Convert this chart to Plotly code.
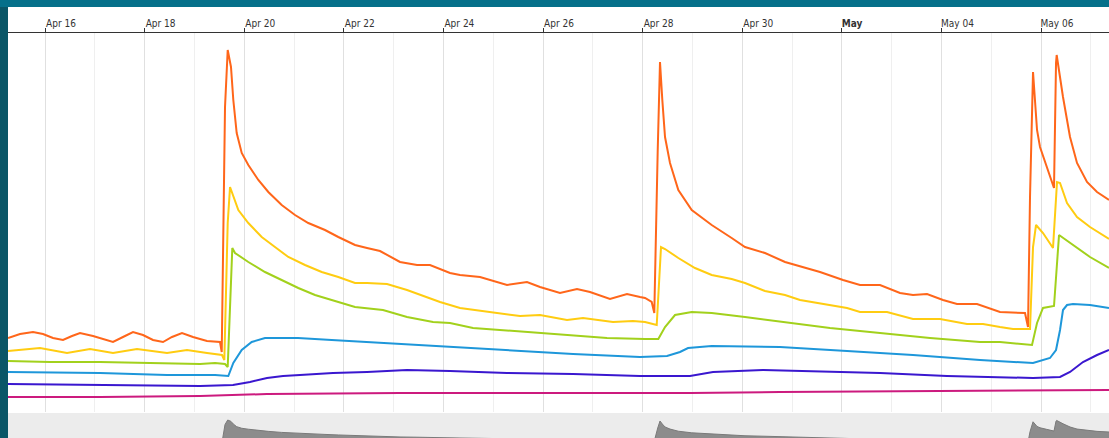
import plotly.graph_objects as go

# ---------------- data ----------------
orange_t = ["2019-04-15 06:10", "2019-04-15 11:57", "2019-04-15 18:13", "2019-04-15 23:02", "2019-04-16 03:51",
            "2019-04-16 08:40", "2019-04-16 13:01", "2019-04-16 16:52", "2019-04-16 23:08", "2019-04-17 03:57",
            "2019-04-17 08:46", "2019-04-17 13:35", "2019-04-17 18:25", "2019-04-17 23:14", "2019-04-18 04:03",
            "2019-04-18 08:52", "2019-04-18 13:12", "2019-04-18 18:01", "2019-04-18 23:20", "2019-04-19 06:04",
            "2019-04-19 09:56", "2019-04-19 12:20", "2019-04-19 13:10", "2019-04-19 14:45", "2019-04-19 16:03",
            "2019-04-19 17:38", "2019-04-19 18:45", "2019-04-19 20:23", "2019-04-19 22:48", "2019-04-20 01:59",
            "2019-04-20 06:48", "2019-04-20 11:37", "2019-04-20 18:04", "2019-04-21 00:29", "2019-04-21 06:53",
            "2019-04-21 14:56", "2019-04-21 21:21", "2019-04-22 05:24", "2019-04-22 11:11", "2019-04-22 17:27",
            "2019-04-23 03:05", "2019-04-23 11:17", "2019-04-23 17:32", "2019-04-24 03:11", "2019-04-24 08:00",
            "2019-04-24 17:38", "2019-04-25 06:39", "2019-04-25 16:17", "2019-04-25 22:33", "2019-04-26 08:11",
            "2019-04-26 16:23", "2019-04-26 22:39", "2019-04-27 08:17", "2019-04-27 16:29", "2019-04-27 22:45",
            "2019-04-28 01:10", "2019-04-28 04:23", "2019-04-28 05:38", "2019-04-28 07:17", "2019-04-28 08:23",
            "2019-04-28 09:30", "2019-04-28 10:48", "2019-04-28 13:12", "2019-04-28 17:13", "2019-04-28 23:40",
            "2019-04-29 09:18", "2019-04-29 18:56", "2019-04-30 01:21", "2019-04-30 10:59", "2019-04-30 20:38",
            "2019-05-01 13:30", "2019-05-02 00:35", "2019-05-02 08:46", "2019-05-02 18:25", "2019-05-03 04:03",
            "2019-05-03 10:18", "2019-05-03 17:04", "2019-05-04 00:46", "2019-05-04 07:31", "2019-05-04 17:10",
            "2019-05-05 04:14", "2019-05-05 12:26", "2019-05-05 16:17", "2019-05-05 17:44", "2019-05-05 18:42",
            "2019-05-05 20:09", "2019-05-05 22:05", "2019-05-05 23:31", "2019-05-06 02:45", "2019-05-06 05:10",
            "2019-05-06 06:16", "2019-05-06 07:14", "2019-05-06 07:33", "2019-05-06 10:36", "2019-05-06 13:59",
            "2019-05-06 17:21", "2019-05-06 22:10", "2019-05-07 03:00", "2019-05-07 08:46"]
orange_v = [74, 78, 80, 78, 74,
            72, 76, 79, 76, 73,
            70, 75, 80, 77, 72,
            70, 75, 79, 75, 71,
            70, 70, 60, 305, 362,
            345, 312, 279, 259, 247,
            232, 220, 207, 197, 189,
            182, 175, 167, 164, 161,
            150, 147, 147, 139, 137,
            135, 127, 130, 125, 119,
            123, 120, 113, 118, 115,
            114, 110, 99, 262, 350,
            312, 275, 249, 222, 202,
            187, 174, 165, 159, 150,
            140, 132, 127, 127, 119,
            117, 118, 112, 108, 108,
            100, 99, 99, 85, 215,
            340, 282, 265, 245, 232,
            224, 349, 357, 315, 275,
            249, 230, 220, 212]

yellow_t = ["2019-04-15 06:10", "2019-04-15 21:35", "2019-04-16 10:36", "2019-04-16 21:41", "2019-04-17 08:46",
            "2019-04-17 20:20", "2019-04-18 10:48", "2019-04-18 20:26", "2019-04-19 06:04", "2019-04-19 13:18",
            "2019-04-19 14:25", "2019-04-19 16:03", "2019-04-19 17:10", "2019-04-19 18:45", "2019-04-19 21:10",
            "2019-04-20 01:59", "2019-04-20 08:26", "2019-04-20 14:50", "2019-04-20 21:15", "2019-04-21 05:18",
            "2019-04-21 13:21", "2019-04-21 21:21", "2019-04-22 05:24", "2019-04-22 11:11", "2019-04-22 20:49",
            "2019-04-23 06:28", "2019-04-23 18:59", "2019-04-23 22:22", "2019-04-24 08:00", "2019-04-24 22:28",
            "2019-04-25 12:55", "2019-04-25 22:33", "2019-04-26 11:34", "2019-04-26 19:17", "2019-04-27 09:44",
            "2019-04-27 19:22", "2019-04-28 01:10", "2019-04-28 06:48", "2019-04-28 08:52", "2019-04-28 10:48",
            "2019-04-28 17:13", "2019-04-29 01:15", "2019-04-29 09:18", "2019-04-29 18:56", "2019-04-30 01:21",
            "2019-04-30 10:59", "2019-04-30 20:38", "2019-05-01 03:52", "2019-05-01 16:52", "2019-05-02 02:31",
            "2019-05-02 08:46", "2019-05-02 21:47", "2019-05-03 10:18", "2019-05-03 23:20", "2019-05-04 12:20",
            "2019-05-04 20:03", "2019-05-05 04:14", "2019-05-05 10:30", "2019-05-05 18:42", "2019-05-05 20:09",
            "2019-05-05 21:36", "2019-05-06 00:58", "2019-05-06 05:47", "2019-05-06 07:43", "2019-05-06 09:10",
            "2019-05-06 12:32", "2019-05-06 17:21", "2019-05-06 23:37", "2019-05-07 08:46"]
yellow_v = [61, 64, 59, 63, 59,
            63, 59, 62, 59, 57,
            52, 189, 225, 215, 202,
            189, 175, 165, 155, 147,
            140, 135, 129, 129, 128,
            122, 113, 110, 104, 100,
            96, 97, 92, 94, 90,
            91, 90, 87, 165, 163,
            154, 144, 137, 133, 129,
            121, 117, 112, 107, 104,
            100, 100, 93, 93, 88,
            88, 85, 83, 83, 165,
            187, 179, 164, 230, 229,
            209, 195, 185, 173]

green_t = ["2019-04-15 06:10", "2019-04-16 02:25", "2019-04-17 02:30", "2019-04-18 02:36", "2019-04-19 02:42",
           "2019-04-19 09:56", "2019-04-19 14:45", "2019-04-19 16:03", "2019-04-19 17:10", "2019-04-19 18:16",
           "2019-04-19 19:34", "2019-04-20 01:59", "2019-04-20 10:01", "2019-04-20 18:04", "2019-04-21 02:04",
           "2019-04-21 10:07", "2019-04-21 18:10", "2019-04-22 05:24", "2019-04-22 18:53", "2019-04-23 06:28",
           "2019-04-23 18:59", "2019-04-24 03:11", "2019-04-24 14:16", "2019-04-25 14:22", "2019-04-26 14:28",
           "2019-04-27 06:51", "2019-04-28 01:10", "2019-04-28 07:34", "2019-04-28 10:48", "2019-04-28 15:37",
           "2019-04-28 23:40", "2019-04-29 09:18", "2019-04-30 01:21", "2019-04-30 20:38", "2019-05-01 18:19",
           "2019-05-02 18:25", "2019-05-03 18:31", "2019-05-04 18:36", "2019-05-05 04:14", "2019-05-05 19:40",
           "2019-05-05 22:05", "2019-05-06 00:58", "2019-05-06 06:16", "2019-05-06 08:41", "2019-05-06 13:59",
           "2019-05-06 23:37", "2019-05-07 08:46"]
green_v = [51, 50, 50, 49, 48,
           49, 48, 45, 105, 164,
           159, 150, 140, 132, 124,
           117, 112, 105, 102, 95,
           90, 89, 84, 80, 76,
           74, 73, 73, 85, 97,
           100, 99, 95, 90, 84,
           79, 74, 70, 70, 67,
           89, 104, 106, 177, 169,
           155, 144]

blue_t = ["2019-04-15 06:10", "2019-04-17 02:30", "2019-04-18 10:48", "2019-04-19 09:56", "2019-04-19 16:20",
          "2019-04-19 18:45", "2019-04-19 22:48", "2019-04-20 03:37", "2019-04-20 10:01", "2019-04-21 01:56",
          "2019-04-21 18:10", "2019-04-22 11:11", "2019-04-23 03:05", "2019-04-24 03:11", "2019-04-25 06:39",
          "2019-04-26 14:28", "2019-04-27 22:45", "2019-04-28 11:46", "2019-04-28 18:01", "2019-04-28 21:53",
          "2019-04-29 09:18", "2019-04-30 18:13", "2019-05-02 02:31", "2019-05-03 10:18", "2019-05-04 18:36",
          "2019-05-05 20:09", "2019-05-06 04:20", "2019-05-06 07:14", "2019-05-06 09:10", "2019-05-06 10:36",
          "2019-05-06 12:32", "2019-05-06 15:25", "2019-05-06 23:37", "2019-05-07 08:46"]
blue_v = [40, 39, 37, 37, 36,
          49, 62, 70, 74, 74,
          72, 70, 68, 65, 62,
          58, 55, 56, 60, 64,
          66, 65, 61, 57, 52,
          49, 54, 62, 82, 102,
          107, 108, 107, 104]

indigo_t = ["2019-04-15 06:10", "2019-04-17 02:30", "2019-04-19 02:42", "2019-04-19 18:36", "2019-04-20 02:48",
            "2019-04-20 10:59", "2019-04-20 18:42", "2019-04-21 02:53", "2019-04-21 18:48", "2019-04-22 11:11",
            "2019-04-23 06:28", "2019-04-24 03:11", "2019-04-25 06:39", "2019-04-26 14:28", "2019-04-27 22:45",
            "2019-04-28 22:50", "2019-04-29 09:56", "2019-04-30 10:02", "2019-05-01 10:07", "2019-05-02 18:25",
            "2019-05-04 02:42", "2019-05-05 04:14", "2019-05-05 20:09", "2019-05-06 09:10", "2019-05-06 13:59",
            "2019-05-06 20:14", "2019-05-07 03:00", "2019-05-07 08:46"]
indigo_v = [28, 27, 26, 27, 30,
            34, 36, 37, 39, 40,
            42, 41, 39, 38, 36,
            36, 40, 42, 41, 39,
            36, 35, 34, 35, 40,
            50, 57, 62]

magenta_t = ["2019-04-15 06:10", "2019-04-17 02:30", "2019-04-19 02:42", "2019-04-19 18:36", "2019-04-20 10:59",
             "2019-04-23 03:05", "2019-04-28 22:50", "2019-04-30 18:13", "2019-05-04 18:36", "2019-05-07 08:46"]
magenta_v = [15, 15, 16, 17, 18, 19, 19, 20, 21, 22]

tick_vals = ["2019-04-16", "2019-04-18", "2019-04-20", "2019-04-22", "2019-04-24", "2019-04-26",
             "2019-04-28", "2019-04-30", "2019-05-02", "2019-05-04", "2019-05-06"]
tick_text = ["Apr 16", "Apr 18", "Apr 20", "Apr 22", "Apr 24", "Apr 26",
             "Apr 28", "Apr 30", "<b>May</b>\u00a0\u00a0\u00a0\u00a0", "May 04", "May 06"]
minor_vals = ["2019-04-17", "2019-04-19", "2019-04-21", "2019-04-23", "2019-04-25", "2019-04-27",
              "2019-04-29", "2019-05-01", "2019-05-03", "2019-05-05", "2019-05-07"]
x_range = ["2019-04-15 06:10", "2019-05-07 08:46"]

series = [
    ("orange", orange_t, orange_v, "#ff661a"),
    ("yellow", yellow_t, yellow_v, "#ffcc11"),
    ("green", green_t, green_v, "#a2d11c"),
    ("blue", blue_t, blue_v, "#1e97da"),
    ("indigo", indigo_t, indigo_v, "#3a17cf"),
    ("magenta", magenta_t, magenta_v, "#cc1a7e"),
]

# ---------------- figure ----------------
W, H = 1109, 438
ML, MT = 8, 33
plot_w, plot_h = W - ML, H - MT

fig = go.Figure()

for name, t, v, c in reversed(series):
    fig.add_trace(go.Scatter(x=t, y=v, mode="lines", name=name,
                             line=dict(color=c, width=2), hoverinfo="skip",
                             xaxis="x", yaxis="y"))

# navigator (bottom strip) showing the first series
fig.add_trace(go.Scatter(x=orange_t, y=orange_v, mode="lines", fill="tozeroy",
                         fillcolor="#8c8c8c", line=dict(color="#7a7a7a", width=1),
                         hoverinfo="skip", xaxis="x2", yaxis="y2"))

nav_top = (H - 413) / plot_h
main_bot = (H - 412) / plot_h
top_white = (H - 7) / plot_h
left_px = -ML / plot_w

shapes = [
    dict(type="rect", xref="paper", yref="paper", x0=0, x1=1, y0=0, y1=top_white,
         fillcolor="white", line=dict(width=0), layer="below"),
    dict(type="rect", xref="paper", yref="paper", x0=left_px, x1=0, y0=0, y1=top_white,
         fillcolor="#0a5667", line=dict(width=0), layer="below"),
    dict(type="rect", xref="paper", yref="paper", x0=0, x1=1, y0=0, y1=nav_top,
         fillcolor="#ececec", line=dict(width=0), layer="below"),
]

fig.update_layout(
    width=W, height=H,
    margin=dict(l=ML, r=0, t=MT, b=0, pad=0),
    paper_bgcolor="#05708a",
    plot_bgcolor="rgba(0,0,0,0)",
    showlegend=False,
    font=dict(family="DejaVu Sans Condensed, DejaVu Sans, sans-serif", size=10, color="#333333"),
    shapes=shapes,
    xaxis=dict(
        type="date", side="top", range=x_range, anchor="y",
        tickmode="array", tickvals=tick_vals, ticktext=tick_text,
        ticks="outside", ticklen=4, tickwidth=1, tickcolor="#333333",
        ticklabelshift=16, ticklabelstandoff=-3,
        showline=True, linecolor="#333333", linewidth=1.5,
        showgrid=True, gridcolor="#e0e0e0", gridwidth=1,
        minor=dict(tickmode="array", tickvals=minor_vals, showgrid=True,
                   gridcolor="#efefef", gridwidth=1, ticks=""),
        zeroline=False, automargin=False, fixedrange=True,
        tickfont=dict(size=10, color="#333333"),
    ),
    yaxis=dict(domain=[main_bot, 1], range=[0, 379], visible=False, fixedrange=True),
    xaxis2=dict(type="date", range=x_range, anchor="y2", visible=False, fixedrange=True),
    yaxis2=dict(domain=[0, nav_top], range=[137, 450], visible=False, fixedrange=True),
)

fig.write_html("out.html",
               config={"displayModeBar": False, "staticPlot": True},
               post_script="document.body.style.margin='0px';document.body.style.overflow='hidden';")
